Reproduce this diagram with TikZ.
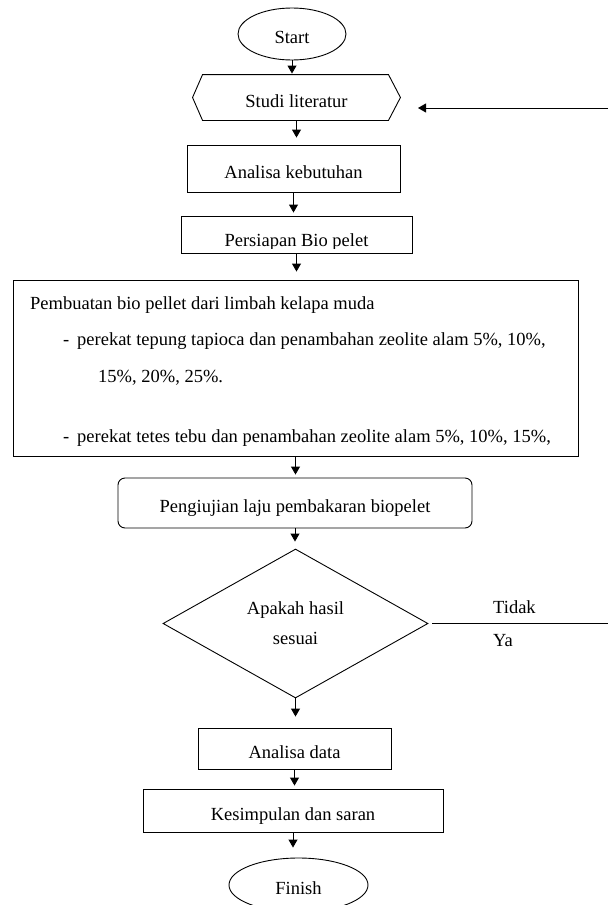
\documentclass[tikz,border=0pt]{standalone}
\usepackage{fontspec}
\setmainfont{Liberation Serif}
\usetikzlibrary{shapes.geometric,arrows.meta}
\begin{document}
\begin{tikzpicture}[x=1pt,y=-1pt,
  every node/.style={font=\fontsize{18.5}{22}\selectfont},
  box/.style={draw, line width=0.9pt, rectangle, inner sep=0pt, text height=19pt, text depth=0pt},
  term/.style={draw, line width=0.9pt, ellipse, inner sep=0pt, text height=19pt, text depth=0pt},
  arr/.style={line width=0.9pt, -{Triangle[length=8pt,width=9pt]}},
  plain/.style={line width=0.9pt},
  lbl/.style={inner sep=0pt, anchor=base west}
]
\clip (0,0) rectangle (608,905);

\node[term, minimum width=108pt, minimum height=52pt] (start) at (292,34) {Start};
\node[box, draw=none, minimum width=207pt, minimum height=45pt] (studi) at (296.5,97.5) {Studi literatur};
\draw[plain] (studi.west) -- ([xshift=10pt]studi.north west) -- ([xshift=-12pt]studi.north east) -- (studi.east) -- ([xshift=-12pt]studi.south east) -- ([xshift=10pt]studi.south west) -- cycle;
\node[box, minimum width=213pt, minimum height=47pt] (keb) at (293.5,168.5) {Analisa kebutuhan};
\node[box, minimum width=231pt, minimum height=37pt] (persiapan) at (296.5,234.5) {};
\begin{scope}
  \clip (persiapan.north west) rectangle ([yshift=5pt]persiapan.south east);
  \node[inner sep=0pt, anchor=base] (persiapantxt) at (296.5,246.5) {Persiapan Bio pelet};
\end{scope}

\node[box, minimum width=565pt, minimum height=176pt] (buat) at (295.5,368) {};
\node[lbl] (l1) at (30,309) {Pembuatan bio pellet dari limbah kelapa muda};
\node[lbl] (l2) at (63,345) {\makebox[14pt][l]{-}perekat tepung tapioca dan penambahan zeolite alam 5\%, 10\%,};
\node[lbl] (l3) at (98,382) {15\%, 20\%, 25\%.};
\node[lbl] (l4) at (63,442) {\makebox[14pt][l]{-}perekat tetes tebu dan penambahan zeolite alam 5\%, 10\%, 15\%,};

\node[box, rounded corners=7pt, minimum width=354pt, minimum height=50pt] (uji) at (295,503) {Pengiujian laju pembakaran biopelet};
\node[draw, line width=0.9pt, diamond, aspect=1.78, minimum width=265pt, minimum height=149pt, inner sep=0pt, align=center] (dec) at (295.5,623.5) {Apakah hasil\\[8pt]sesuai};
\coordinate (tend) at (608,623.5);
\draw[plain] ([xshift=4pt]dec.east) -- (tend);
\node[lbl] (tidak) at (493,613) {Tidak};
\node[lbl] (ya) at (493,646) {Ya};

\coordinate (fbs) at (608,108);
\coordinate (fbe) at (418,108);
\draw[arr] (fbs) -- (fbe);

\node[box, minimum width=193pt, minimum height=41pt] (data) at (294.5,748.5) {Analisa data};
\node[box, minimum width=300pt, minimum height=43pt] (kes) at (293,810.5) {Kesimpulan dan saran};
\node[term, minimum width=139pt, minimum height=54pt] (finish) at (298.5,885) {Finish};

\draw[arr, shorten >=1pt] (start.south) -- (start.south |- studi.north);
\draw[arr, shorten >=7pt] (studi.south) -- (studi.south |- keb.north);
\draw[arr, shorten >=3pt] (keb.south) -- (keb.south |- persiapan.north);
\draw[arr, shorten >=8pt] (persiapan.south) -- (persiapan.south |- buat.north);
\draw[arr, shorten >=3pt] (buat.south) -- (buat.south |- uji.north);
\draw[arr, shorten >=7pt] (uji.south) -- (uji.south |- dec.north);
\draw[arr, shorten >=11pt] (dec.south) -- (dec.south |- data.north);
\draw[arr, shorten >=3pt] (data.south) -- (data.south |- kes.north);
\draw[arr, shorten >=10pt] (kes.south) -- (kes.south |- finish.north);
\end{tikzpicture}
\end{document}
